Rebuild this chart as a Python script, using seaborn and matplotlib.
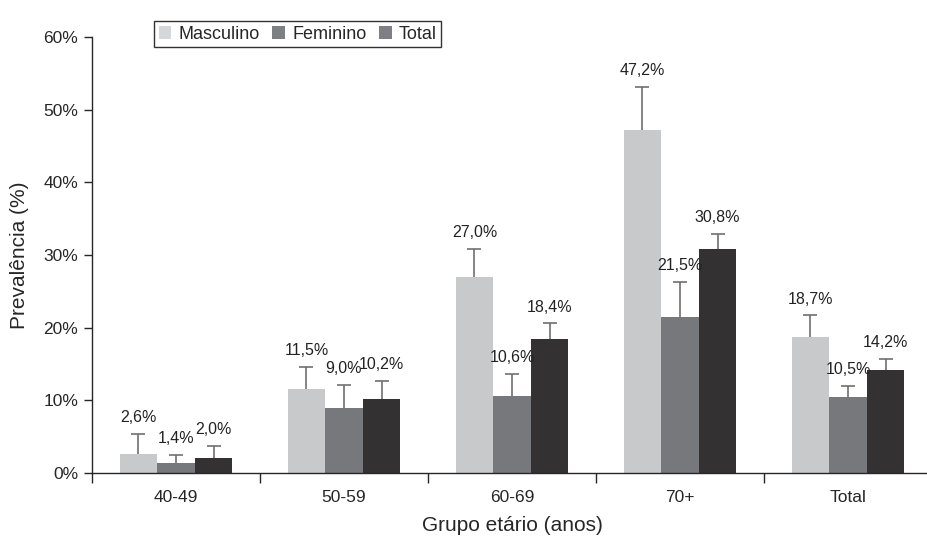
import pandas as pd
import matplotlib.pyplot as plt
import seaborn as sns
from matplotlib.patches import Patch

# Chart values
groups = ["40-49", "50-59", "60-69", "70+", "Total"]
series = ["Masculino", "Feminino", "Total"]
masculino = [2.6, 11.5, 27.0, 47.2, 18.7]
feminino = [1.4, 9.0, 10.6, 21.5, 10.5]
total = [2.0, 10.2, 18.4, 30.8, 14.2]
# upper end of the error bars
masc_upper = [5.4, 14.6, 30.8, 53.1, 21.7]
fem_upper = [2.5, 12.1, 13.6, 26.3, 12.0]
tot_upper = [3.7, 12.7, 20.6, 32.9, 15.7]

colors = ["#c8c9cb", "#77787c", "#333132"]
legend_colors = ["#d6d7d9", "#7e7f83", "#7e7f83"]

rows = []
for name, vals in zip(series, [masculino, feminino, total]):
    for g, v in zip(groups, vals):
        rows.append({"grupo": g, "sexo": name, "valor": v})
df = pd.DataFrame(rows)

sns.set_style("ticks")
plt.rcParams["font.family"] = ["Liberation Sans", "DejaVu Sans"]

fig = plt.figure(figsize=(9.27, 5.4), dpi=100)
ax = fig.add_axes([92 / 927, 1 - 473 / 540, 840 / 927, 436 / 540])

sns.barplot(data=df, x="grupo", y="valor", hue="sexo", order=groups,
            hue_order=series, palette=colors, width=0.67, errorbar=None,
            saturation=1, legend=False, ax=ax, zorder=2, linewidth=0)

uppers = [masc_upper, fem_upper, tot_upper]
values = [masculino, feminino, total]
bar_conts = list(ax.containers)
for i, cont in enumerate(bar_conts):
    for j, bar in enumerate(cont.patches):
        x = bar.get_x() + bar.get_width() / 2
        v = values[i][j]
        e = uppers[i][j] - v
        # symmetric bar drawn behind the bar, so only the upper half shows
        ax.errorbar([x], [v], yerr=[[e], [e]], fmt="none",
                    ecolor="#707070", elinewidth=1.2, capsize=5,
                    capthick=1.2, zorder=1)
        ax.text(x, uppers[i][j] + 1.2, f"{v:.1f}%".replace(".", ","),
                ha="center", va="bottom", fontsize=11.5, color="#222222",
                zorder=3)

ax.set_ylim(0, 60)
ax.set_xlim(-0.5, 4.5)
ax.set_yticks(range(0, 61, 10))
ax.set_yticklabels([f"{t}%" for t in range(0, 61, 10)], fontsize=12.5)
ax.set_xticks(range(len(groups)))
ax.set_xticklabels(groups, fontsize=12.5)
ax.set_xticks([k - 0.5 for k in range(len(groups) + 1)], minor=True)
ax.tick_params(axis="x", which="major", length=0, pad=12)
ax.tick_params(axis="x", which="minor", length=7, width=1, direction="out")
ax.tick_params(axis="y", length=6, width=1, direction="out", pad=4)

ax.set_xlabel("Grupo etário (anos)", fontsize=15, labelpad=8)
ax.set_ylabel("Prevalência (%)", fontsize=15, labelpad=10)

for s in ["top", "right"]:
    ax.spines[s].set_visible(False)
ax.spines["left"].set_linewidth(1)
ax.spines["bottom"].set_linewidth(1)

handles = [Patch(facecolor=c, edgecolor="none") for c in legend_colors]
leg = fig.legend(handles, series, loc="upper left",
                 bbox_to_anchor=(145 / 927, 1 - 12 / 540), ncol=3,
                 frameon=True, fancybox=False, edgecolor="#333333",
                 framealpha=1, handlelength=0.7, handleheight=0.7,
                 columnspacing=0.7, handletextpad=0.4, borderpad=0.25,
                 fontsize=13)
leg.get_frame().set_linewidth(1)

fig.savefig("out.png", dpi=100)
